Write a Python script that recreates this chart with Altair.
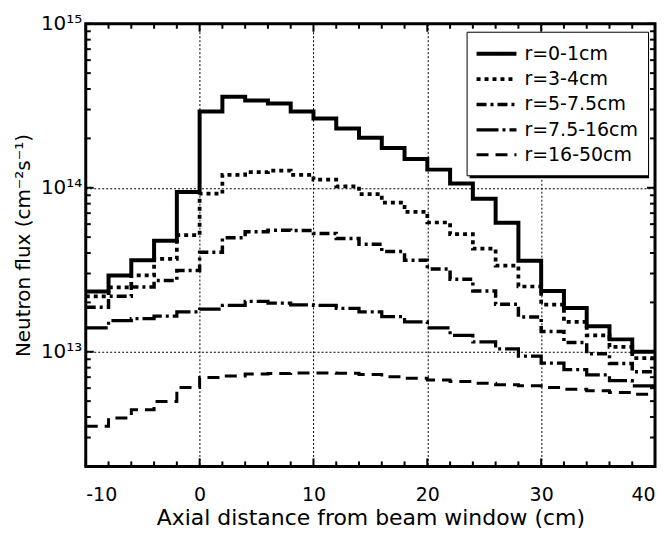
import altair as alt
import pandas as pd

# bin edges (cm)
edges = [-10, -8, -6, -4, -2, 0, 2, 4, 6, 8, 10, 12, 14, 16, 18, 20, 22, 24, 26, 28, 30, 32, 34, 36, 38, 40]

series_names = ["r=0-1cm", "r=3-4cm", "r=5-7.5cm", "r=7.5-16cm", "r=16-50cm"]

r0_1 = [2.33e13, 2.92e13, 3.61e13, 4.75e13, 9.42e13, 2.92e14, 3.59e14, 3.41e14, 3.26e14, 2.92e14,
        2.64e14, 2.30e14, 2.02e14, 1.75e14, 1.50e14, 1.29e14, 1.06e14, 8.58e13, 6.11e13, 3.59e13,
        2.35e13, 1.85e13, 1.43e13, 1.19e13, 1.00e13]
r3_4 = [2.18e13, 2.47e13, 2.92e13, 3.68e13, 5.14e13, 9.20e13, 1.20e14, 1.245e14, 1.27e14, 1.20e14,
        1.12e14, 1.02e14, 9.16e13, 8.11e13, 7.12e13, 6.14e13, 5.21e13, 4.25e13, 3.35e13, 2.50e13,
        1.94e13, 1.52e13, 1.26e13, 1.07e13, 9.16e12]
r5_75 = [1.87e13, 2.18e13, 2.48e13, 2.72e13, 3.13e13, 4.04e13, 4.96e13, 5.39e13, 5.51e13, 5.49e13,
         5.26e13, 4.91e13, 4.53e13, 4.08e13, 3.62e13, 3.20e13, 2.77e13, 2.35e13, 1.95e13, 1.63e13,
         1.33e13, 1.14e13, 9.72e12, 8.49e12, 7.56e12]
r75_16 = [1.40e13, 1.55e13, 1.59e13, 1.65e13, 1.75e13, 1.82e13, 1.92e13, 2.03e13, 1.98e13, 1.93e13,
          1.92e13, 1.84e13, 1.75e13, 1.64e13, 1.52e13, 1.40e13, 1.26e13, 1.15e13, 1.04e13, 9.42e12,
          8.54e12, 7.78e12, 7.22e12, 6.67e12, 6.20e12]
r16_50 = [3.51e12, 3.94e12, 4.43e12, 4.98e12, 6.05e12, 6.96e12, 7.12e12, 7.32e12, 7.36e12, 7.43e12,
          7.43e12, 7.39e12, 7.26e12, 7.05e12, 6.89e12, 6.73e12, 6.58e12, 6.43e12, 6.29e12, 6.20e12,
          6.05e12, 5.91e12, 5.78e12, 5.64e12, 5.51e12]

dashes = [[1, 0], [4, 4], [10, 4, 3, 4], [22, 4, 3, 4], [12, 7]]
widths = [4, 3, 3, 3, 3]

y_major = [1e13, 1e14, 1e15]
y_minor = [2e12, 3e12, 4e12, 5e12, 6e12, 7e12, 8e12, 9e12,
           2e13, 3e13, 4e13, 5e13, 6e13, 7e13, 8e13, 9e13,
           2e14, 3e14, 4e14, 5e14, 6e14, 7e14, 8e14, 9e14]
x_major = [-10, 0, 10, 20, 30, 40]
x_minor = [-8, -6, -4, -2, 2, 4, 6, 8, 12, 14, 16, 18, 22, 24, 26, 28, 32, 34, 36, 38]

W, H = 571, 444

rows = []
for name, vals in zip(series_names, [r0_1, r3_4, r5_75, r75_16, r16_50]):
    ys = vals + [vals[-1]]
    for x, y in zip(edges, ys):
        rows.append({"x": x, "flux": y, "series": name})
df = pd.DataFrame(rows)

FONT = "DejaVu Sans"
xscale = alt.Scale(domain=[-10, 40], nice=False, zero=False)
yscale = alt.Scale(type="log", domain=[2e12, 1e15], nice=False)

lines = alt.Chart(df).mark_line(interpolate="step-after", color="black", clip=True).encode(
    x=alt.X("x:Q", scale=xscale,
            axis=alt.Axis(values=x_major, title="Axial distance from beam window (cm)",
                          labelExpr="'' + datum.value",
                          grid=True, gridDash=[2, 2], gridColor="black", gridWidth=1,
                          ticks=False, domain=False, labelPadding=19, titlePadding=3,
                          labelFontSize=19, titleFontSize=22)),
    y=alt.Y("flux:Q", scale=yscale,
            axis=alt.Axis(values=y_major, title="Neutron flux (cm⁻²s⁻¹)",
                          labelExpr="datum.value < 5e13 ? '10¹³' : (datum.value < 5e14 ? '10¹⁴' : '10¹⁵')",
                          grid=True, gridDash=[2, 2], gridColor="black", gridWidth=1,
                          ticks=False, domain=False, labelPadding=4, titlePadding=7,
                          labelFontSize=20, titleFontSize=20)),
    strokeDash=alt.StrokeDash("series:N",
                              scale=alt.Scale(domain=series_names, range=dashes),
                              legend=alt.Legend(title=None, orient="none", legendX=382, legendY=8,
                                                symbolType="M-2,0H2", symbolSize=400,
                                                symbolOffset=8, labelOffset=16,
                                                symbolStrokeWidth=3, symbolStrokeColor="black",
                                                labelFontSize=19, labelFont=FONT, labelColor="black",
                                                rowPadding=3.5, padding=10,
                                                strokeColor="black", fillColor="white")),
    strokeWidth=alt.StrokeWidth("series:N", scale=alt.Scale(domain=series_names, range=widths),
                                legend=None),
    detail="series:N",
)

ymaj_df = pd.DataFrame({"v": y_major})
ymin_df = pd.DataFrame({"v": y_minor})
xmaj_df = pd.DataFrame({"v": x_major})
xmin_df = pd.DataFrame({"v": x_minor})

def yticks(d, length):
    left = alt.Chart(d).mark_rule(color="black", strokeWidth=2).encode(
        y=alt.Y("v:Q", scale=yscale), x=alt.value(0), x2=alt.value(length))
    right = alt.Chart(d).mark_rule(color="black", strokeWidth=2).encode(
        y=alt.Y("v:Q", scale=yscale), x=alt.value(W), x2=alt.value(W - length))
    return left + right

def xticks(d, length):
    bottom = alt.Chart(d).mark_rule(color="black", strokeWidth=2).encode(
        x=alt.X("v:Q", scale=xscale), y=alt.value(H), y2=alt.value(H - length))
    top = alt.Chart(d).mark_rule(color="black", strokeWidth=2).encode(
        x=alt.X("v:Q", scale=xscale), y=alt.value(0), y2=alt.value(length))
    return bottom + top

shadow = alt.Chart(pd.DataFrame({"a": [0]})).mark_rect(color="black").encode(
    x=alt.value(385), x2=alt.value(565), y=alt.value(11), y2=alt.value(155))

chart = alt.layer(
    lines, yticks(ymaj_df, 8), yticks(ymin_df, 5), xticks(xmaj_df, 8), xticks(xmin_df, 5), shadow
).properties(width=W, height=H).configure_view(
    stroke="black", strokeWidth=3
).configure_axis(
    labelFont=FONT, titleFont=FONT,
    labelColor="black", titleColor="black", titleFontWeight="normal"
)

chart.save("out.html", embed_options={"renderer": "svg", "actions": False})
